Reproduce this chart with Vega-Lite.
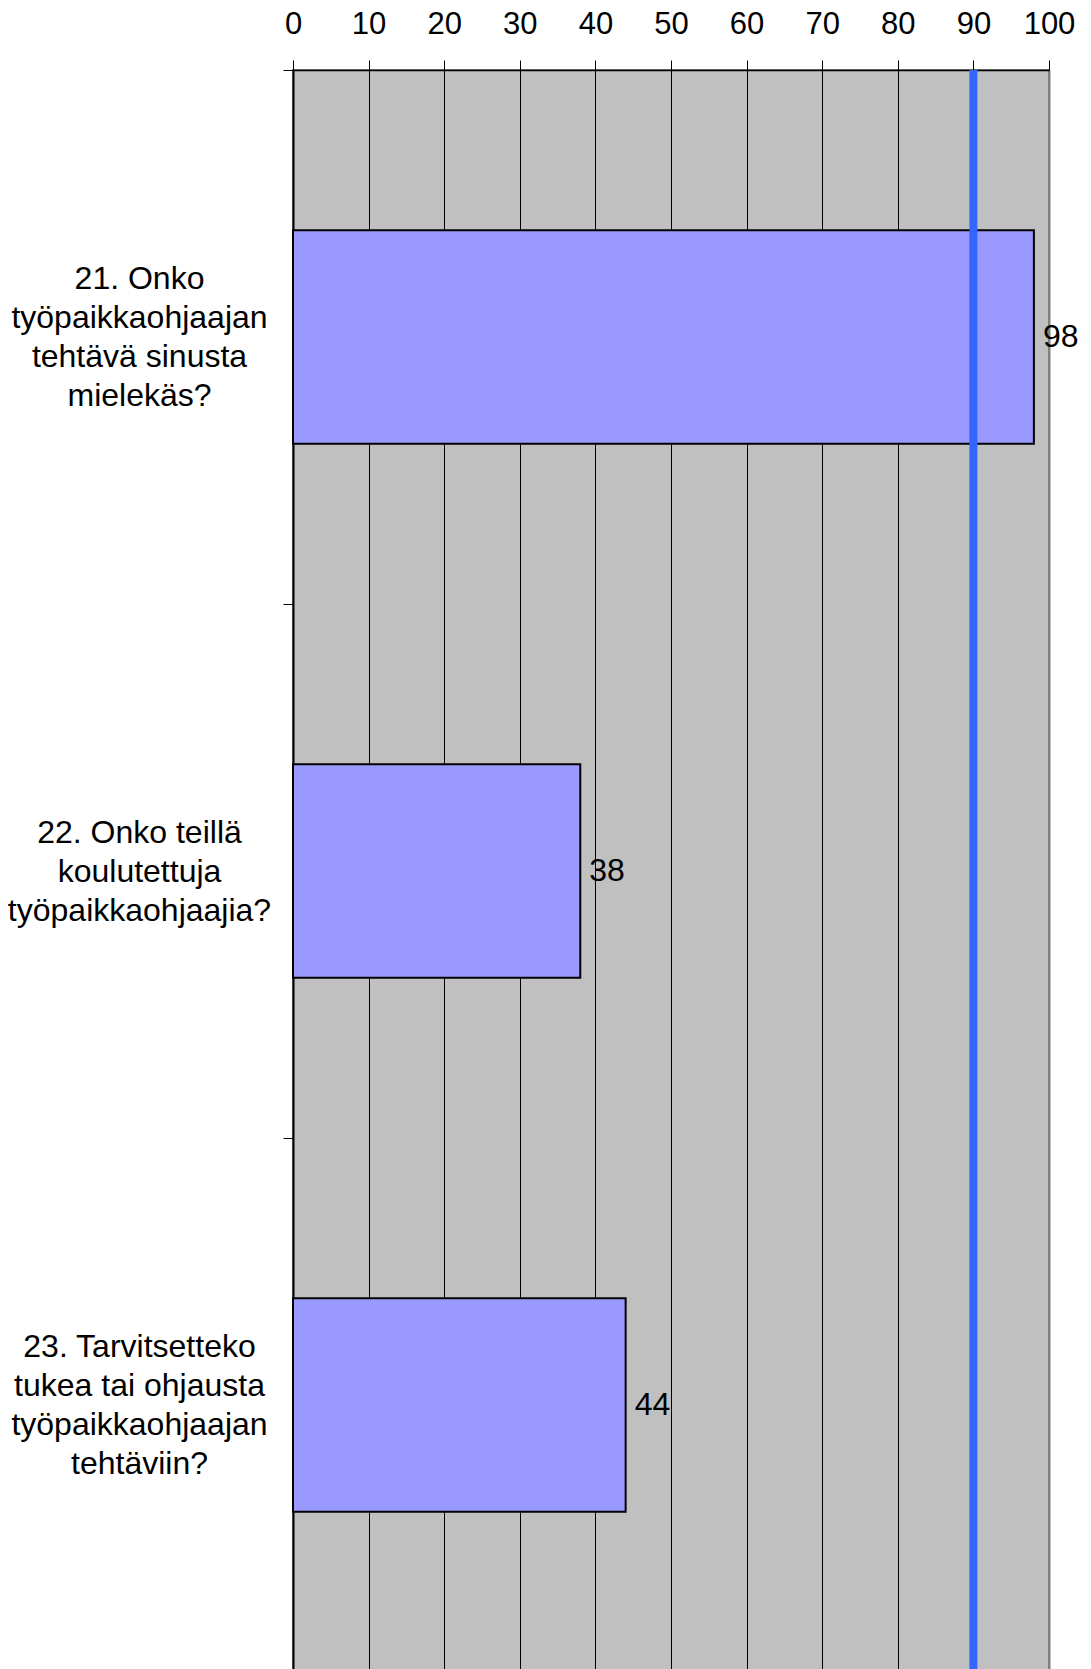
{
  "$schema": "https://vega.github.io/schema/vega-lite/v6.json",
  "autosize": "none",
  "padding": {"left": 293, "top": 70, "right": 42, "bottom": 0},
  "width": 756,
  "height": 1602,
  "background": "white",
  "config": {
    "font": "Liberation Sans",
    "view": {"fill": "#C0C0C0", "stroke": "#808080", "strokeWidth": 2}
  },
  "data": {
    "values": [
      {"q": "21. Onko|työpaikkaohjaajan|tehtävä sinusta|mielekäs?", "value": 98},
      {"q": "22. Onko teillä|koulutettuja|työpaikkaohjaajia?", "value": 38},
      {"q": "23. Tarvitsetteko|tukea tai ohjausta|työpaikkaohjaajan|tehtäviin?", "value": 44}
    ]
  },
  "layer": [
    {
      "mark": {"type": "bar", "fill": "#9999FF", "stroke": "black", "strokeWidth": 2, "height": {"band": 0.4}},
      "encoding": {
        "y": {
          "field": "q",
          "type": "nominal",
          "sort": null,
          "scale": {"paddingInner": 0, "paddingOuter": 0},
          "axis": {
            "title": null,
            "labelExpr": "isValid(datum.value) ? split(datum.value, '|') : ''",
            "labelAlign": "center",
            "labelBaseline": "middle",
            "labelFontSize": 32,
            "labelLineHeight": 39,
            "labelColor": "black",
            "labelPadding": 144,
            "labelLimit": 400,
            "labelOffset": {"condition": {"test": "isValid(datum.value) && length(split(datum.value, '|')) == 4", "value": -58.5}, "value": -39},
            "tickBand": "extent",
            "tickSize": 10,
            "tickColor": "black",
            "domainColor": "black",
            "domainWidth": 2,
            "grid": false
          }
        },
        "x": {
          "field": "value",
          "type": "quantitative",
          "scale": {"domain": [0, 100], "nice": false},
          "axis": {
            "orient": "top",
            "title": null,
            "values": [0, 10, 20, 30, 40, 50, 60, 70, 80, 90, 100],
            "labelFontSize": 31,
            "labelColor": "black",
            "labelPadding": 20,
            "labelFlush": false,
            "tickSize": 10,
            "tickColor": "black",
            "domainColor": "black",
            "domainWidth": 1.5,
            "grid": true,
            "gridColor": {"condition": {"test": "datum.value == 100", "value": "#808080"}, "value": "black"},
            "gridWidth": {"condition": {"test": "datum.value == 100", "value": 2}, "value": 1},
            "gridOpacity": 1
          }
        }
      }
    },
    {
      "mark": {"type": "text", "align": "left", "baseline": "middle", "dx": 9, "fontSize": 32, "color": "black"},
      "encoding": {
        "y": {"field": "q", "type": "nominal", "sort": null},
        "x": {"field": "value", "type": "quantitative"},
        "text": {"field": "value", "type": "quantitative"}
      }
    },
    {
      "data": {"values": [{"target": 90}]},
      "mark": {"type": "rule", "color": "#3366FF", "strokeWidth": 8},
      "encoding": {
        "x": {"field": "target", "type": "quantitative"}
      }
    }
  ]
}
